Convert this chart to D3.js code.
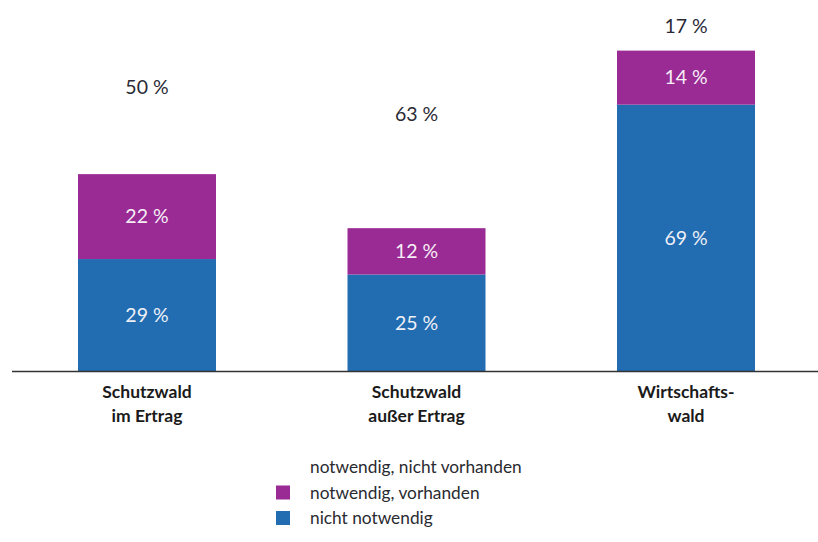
<!DOCTYPE html>
<html><head><meta charset="utf-8">
<script src="https://cdn.jsdelivr.net/npm/d3@7"></script>
<style>body{margin:0;background:#fff}svg{display:block}</style>
</head><body><svg id="c" width="818" height="542"></svg>
<script>
const categories = [["Schutzwald","im Ertrag"],["Schutzwald","außer Ertrag"],["Wirtschafts-","wald"]];
const nichtNotwendig = [29, 25, 69];
const notwendigVorhanden = [22, 12, 14];
const notwendigNichtVorhanden = [50, 63, 17];
const legendLabels = ["notwendig, nicht vorhanden","notwendig, vorhanden","nicht notwendig"];
const colors = {nn:"#226CB2", nv:"#9A2A94", nnv:"none"};

const svg = d3.select("#c");
const font = "Lato, 'Open Sans', sans-serif";
const x = d3.scaleBand().domain(d3.range(categories.length)).range([78,755]).paddingInner(0.488).paddingOuter(0);
const y = d3.scaleLinear().domain([0,100]).range([371, -15]);

const g = svg.append("g");
categories.forEach((c,i)=>{
  const b0 = 0, b1 = nichtNotwendig[i], b2 = b1 + notwendigVorhanden[i];
  g.append("rect").attr("x",x(i)).attr("width",x.bandwidth()).attr("y",y(b1)).attr("height",y(b0)-y(b1)).attr("fill",colors.nn);
  g.append("rect").attr("x",x(i)).attr("width",x.bandwidth()).attr("y",y(b2)).attr("height",y(b1)-y(b2)).attr("fill",colors.nv);
  const cx = x(i)+x.bandwidth()/2;
  g.append("text").attr("x",cx).attr("y",y(b1/2)).attr("dy","0.35em").attr("text-anchor","middle")
    .attr("font-family",font).attr("font-size",19.5).attr("fill","#eef0f6").text(nichtNotwendig[i]+" %");
  g.append("text").attr("x",cx).attr("y",y((b1+b2)/2)).attr("dy","0.35em").attr("text-anchor","middle")
    .attr("font-family",font).attr("font-size",19.5).attr("fill","#f6eef6").text(notwendigVorhanden[i]+" %");
  const top = Math.min(100, b2 + notwendigNichtVorhanden[i]);
  g.append("text").attr("x",cx).attr("y",y((b2+top)/2)+8).attr("dy","0.35em").attr("text-anchor","middle")
    .attr("font-family",font).attr("font-size",19.5).attr("fill","#2a2a35").text(notwendigNichtVorhanden[i]+" %");
  const t = g.append("text").attr("x",cx).attr("y",y(0)+27).attr("text-anchor","middle")
    .attr("font-family",font).attr("font-size",17.5).attr("font-weight","bold").attr("fill","#1a1a1a");
  c.forEach((l,j)=>t.append("tspan").attr("x",cx).attr("dy",j?24:0).text(l));
});
svg.append("line").attr("x1",12).attr("x2",818).attr("y1",y(0)+0.5).attr("y2",y(0)+0.5).attr("stroke","#333").attr("stroke-width",1.5);

const lg = svg.append("g").attr("transform","translate(276,467)");
const lcols = [colors.nnv, colors.nv, colors.nn];
legendLabels.forEach((l,i)=>{
  const row = lg.append("g").attr("transform",`translate(0,${i*25.5})`);
  if(lcols[i]!=="none") row.append("rect").attr("x",0).attr("y",-7).attr("width",14).attr("height",14).attr("fill",lcols[i]);
  row.append("text").attr("x",34).attr("y",0).attr("dy","0.35em").attr("font-family",font).attr("font-size",17.3).attr("fill","#2a2a30").text(l);
});
</script></body></html>
